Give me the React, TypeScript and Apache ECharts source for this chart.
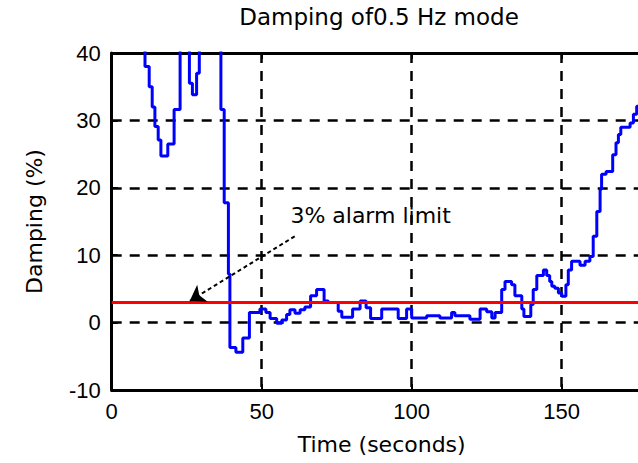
import React, { useEffect, useRef } from 'react';
import * as echarts from 'echarts';

const titleText = 'Damping of0.5 Hz mode';
const xName = 'Time (seconds)';
const yName = 'Damping (%)';
const annotationText = '3% alarm limit';
const alarmLimit = 3;
const xTickLabels = [0, 50, 100, 150];
const xRange = [0, 180];
const yRange = [-10, 40];

// Stepwise damping estimate (time in s, damping in %); values above 40 are off-scale
const times = [
  10.5, 11.1, 12.5, 13.5, 14.4, 15.5, 16.4, 18.7, 20.8, 22.8,
  25.9, 26.9, 28.3, 29.2, 36.4, 37.5, 38.9, 39.4, 41.4, 43.7,
  45.9, 49.4, 51.4, 52.8, 55.0, 56.7, 58.3, 59.4, 61.1, 62.8,
  64.4, 66.3, 68.3, 70.8, 72.2, 75.5, 76.7, 80.3, 82.8, 84.8,
  86.3, 90.0, 95.5, 98.3, 100.0, 105.0, 109.4, 113.3, 114.4, 119.4,
  122.8, 125.0, 126.7, 127.8, 130.0, 131.1, 133.3, 134.4, 136.7, 137.4,
  139.7, 140.5, 141.7, 143.9, 145.0, 146.0, 146.7, 147.7, 148.9, 150.0,
  151.4, 152.2, 153.3, 156.1, 157.8, 159.4, 160.5, 161.7, 162.8, 163.3,
  164.8, 167.0, 168.1, 168.9, 169.7, 172.8, 173.9, 175.0, 176.5,
];
const damping = [
  45, 38, 35, 32, 29.1, 27.1, 24.7, 26.5, 31.6, 45,
  35.5, 33.8, 37, 45, 31.6, 17.8, 7.2, -3.7, -4.4, -2.3,
  1.5, 2.0, 1.5, 0.6, -0.1, 0.4, 1.2, 1.9, 1.4, 1.9,
  2.3, 4.0, 4.9, 3.2, 3.0, 1.7, 0.8, 2.0, 3.2, 2.2,
  0.6, 2.0, 0.6, 2.0, 0.7, 1.0, 0.7, 1.5, 1.0, 0.5,
  2.0, 1.6, 0.7, 1.5, 4.9, 6.1, 5.6, 4.0, 2.0, 0.9,
  2.7, 4.9, 7.0, 7.8, 7.0, 6.1, 5.4, 5.1, 4.4, 3.9,
  5.6, 7.8, 9.1, 8.5, 9.1, 9.8, 12.8, 16.5, 19.8, 22.0,
  22.4, 24.9, 26.7, 27.9, 29.0, 29.6, 30.9, 32.1, 33,
];

// Annotation arrow (data coordinates)
const arrowTail = [61, 12.8];
const arrowHead = [26, 3.2];
const labelAnchor = [59.4, 15.9];

export default function App() {
  const ref = useRef<HTMLDivElement>(null);

  useEffect(() => {
    if (!ref.current) return;
    const chart = echarts.init(ref.current, undefined, { renderer: 'svg' });
    const black = '#000000';
    const axisLine = { onZero: false, lineStyle: { color: black, width: 3 } };
    const axisTick = { inside: true, length: 6, lineStyle: { color: black, width: 2 } };
    const gridLine = { show: true, lineStyle: { color: black, width: 2.5, type: [10, 8] as any } };
    const tickFont = { fontFamily: 'Liberation Sans', fontSize: 22, color: black };
    const nameFont = { fontFamily: 'DejaVu Sans', fontSize: 22, color: black };

    chart.setOption({
      animation: false,
      backgroundColor: '#ffffff',
      title: {
        text: titleText,
        left: 379,
        top: 5,
        padding: 0,
        textAlign: 'center',
        textStyle: { fontFamily: 'DejaVu Sans', fontSize: 23, fontWeight: 'normal', color: black },
      },
      grid: {
        left: 111.7,
        top: 53,
        width: 540,
        height: 337,
        containLabel: false,
        outerBoundsMode: 'none',
      },
      xAxis: [
        {
          type: 'value',
          min: xRange[0],
          max: xRange[1],
          interval: 50,
          position: 'bottom',
          name: xName,
          nameLocation: 'middle',
          nameGap: 43,
          nameTextStyle: nameFont,
          axisLine,
          axisTick,
          axisLabel: {
            ...tickFont,
            margin: 10,
            formatter: (v: number) => (xTickLabels.includes(v) ? String(v) : ''),
          },
          splitLine: gridLine,
        },
        {
          type: 'value',
          min: xRange[0],
          max: xRange[1],
          interval: 50,
          position: 'top',
          axisLine,
          axisTick,
          axisLabel: { show: false },
          splitLine: { show: false },
        },
      ],
      yAxis: {
        type: 'value',
        min: yRange[0],
        max: yRange[1],
        interval: 10,
        name: yName,
        nameLocation: 'middle',
        nameGap: 66,
        nameTextStyle: nameFont,
        axisLine,
        axisTick,
        axisLabel: { ...tickFont, margin: 11 },
        splitLine: gridLine,
      },
      series: [
        {
          name: 'Damping',
          type: 'line',
          step: 'end',
          showSymbol: false,
          clip: true,
          lineStyle: { color: '#0000ff', width: 3 },
          data: times.map((t, i) => [t, damping[i]]),
          z: 3,
        },
        {
          name: 'Alarm limit',
          type: 'line',
          showSymbol: false,
          clip: true,
          lineStyle: { color: '#ff0000', width: 3 },
          data: [
            [xRange[0], alarmLimit],
            [xRange[1], alarmLimit],
          ],
          z: 4,
          markLine: {
            silent: true,
            symbol: ['none', 'arrow'],
            symbolSize: 15,
            label: { show: false },
            lineStyle: { color: black, width: 2, type: [4, 3] as any },
            itemStyle: { color: black },
            emphasis: { disabled: true },
            data: [[{ coord: arrowTail }, { coord: arrowHead }]],
          },
          markPoint: {
            silent: true,
            symbol: 'circle',
            symbolSize: 1,
            itemStyle: { color: 'rgba(0,0,0,0)' },
            label: {
              show: true,
              position: 'right',
              distance: 0,
              formatter: annotationText,
              fontFamily: 'DejaVu Sans',
              fontSize: 22,
              color: black,
            },
            data: [{ coord: labelAnchor, value: alarmLimit }],
          },
        },
      ],
    });
    return () => chart.dispose();
  }, []);

  return (
    <div
      ref={ref}
      style={{ position: 'absolute', left: 0, top: 0, width: 638, height: 463, background: '#fff' }}
    />
  );
}
